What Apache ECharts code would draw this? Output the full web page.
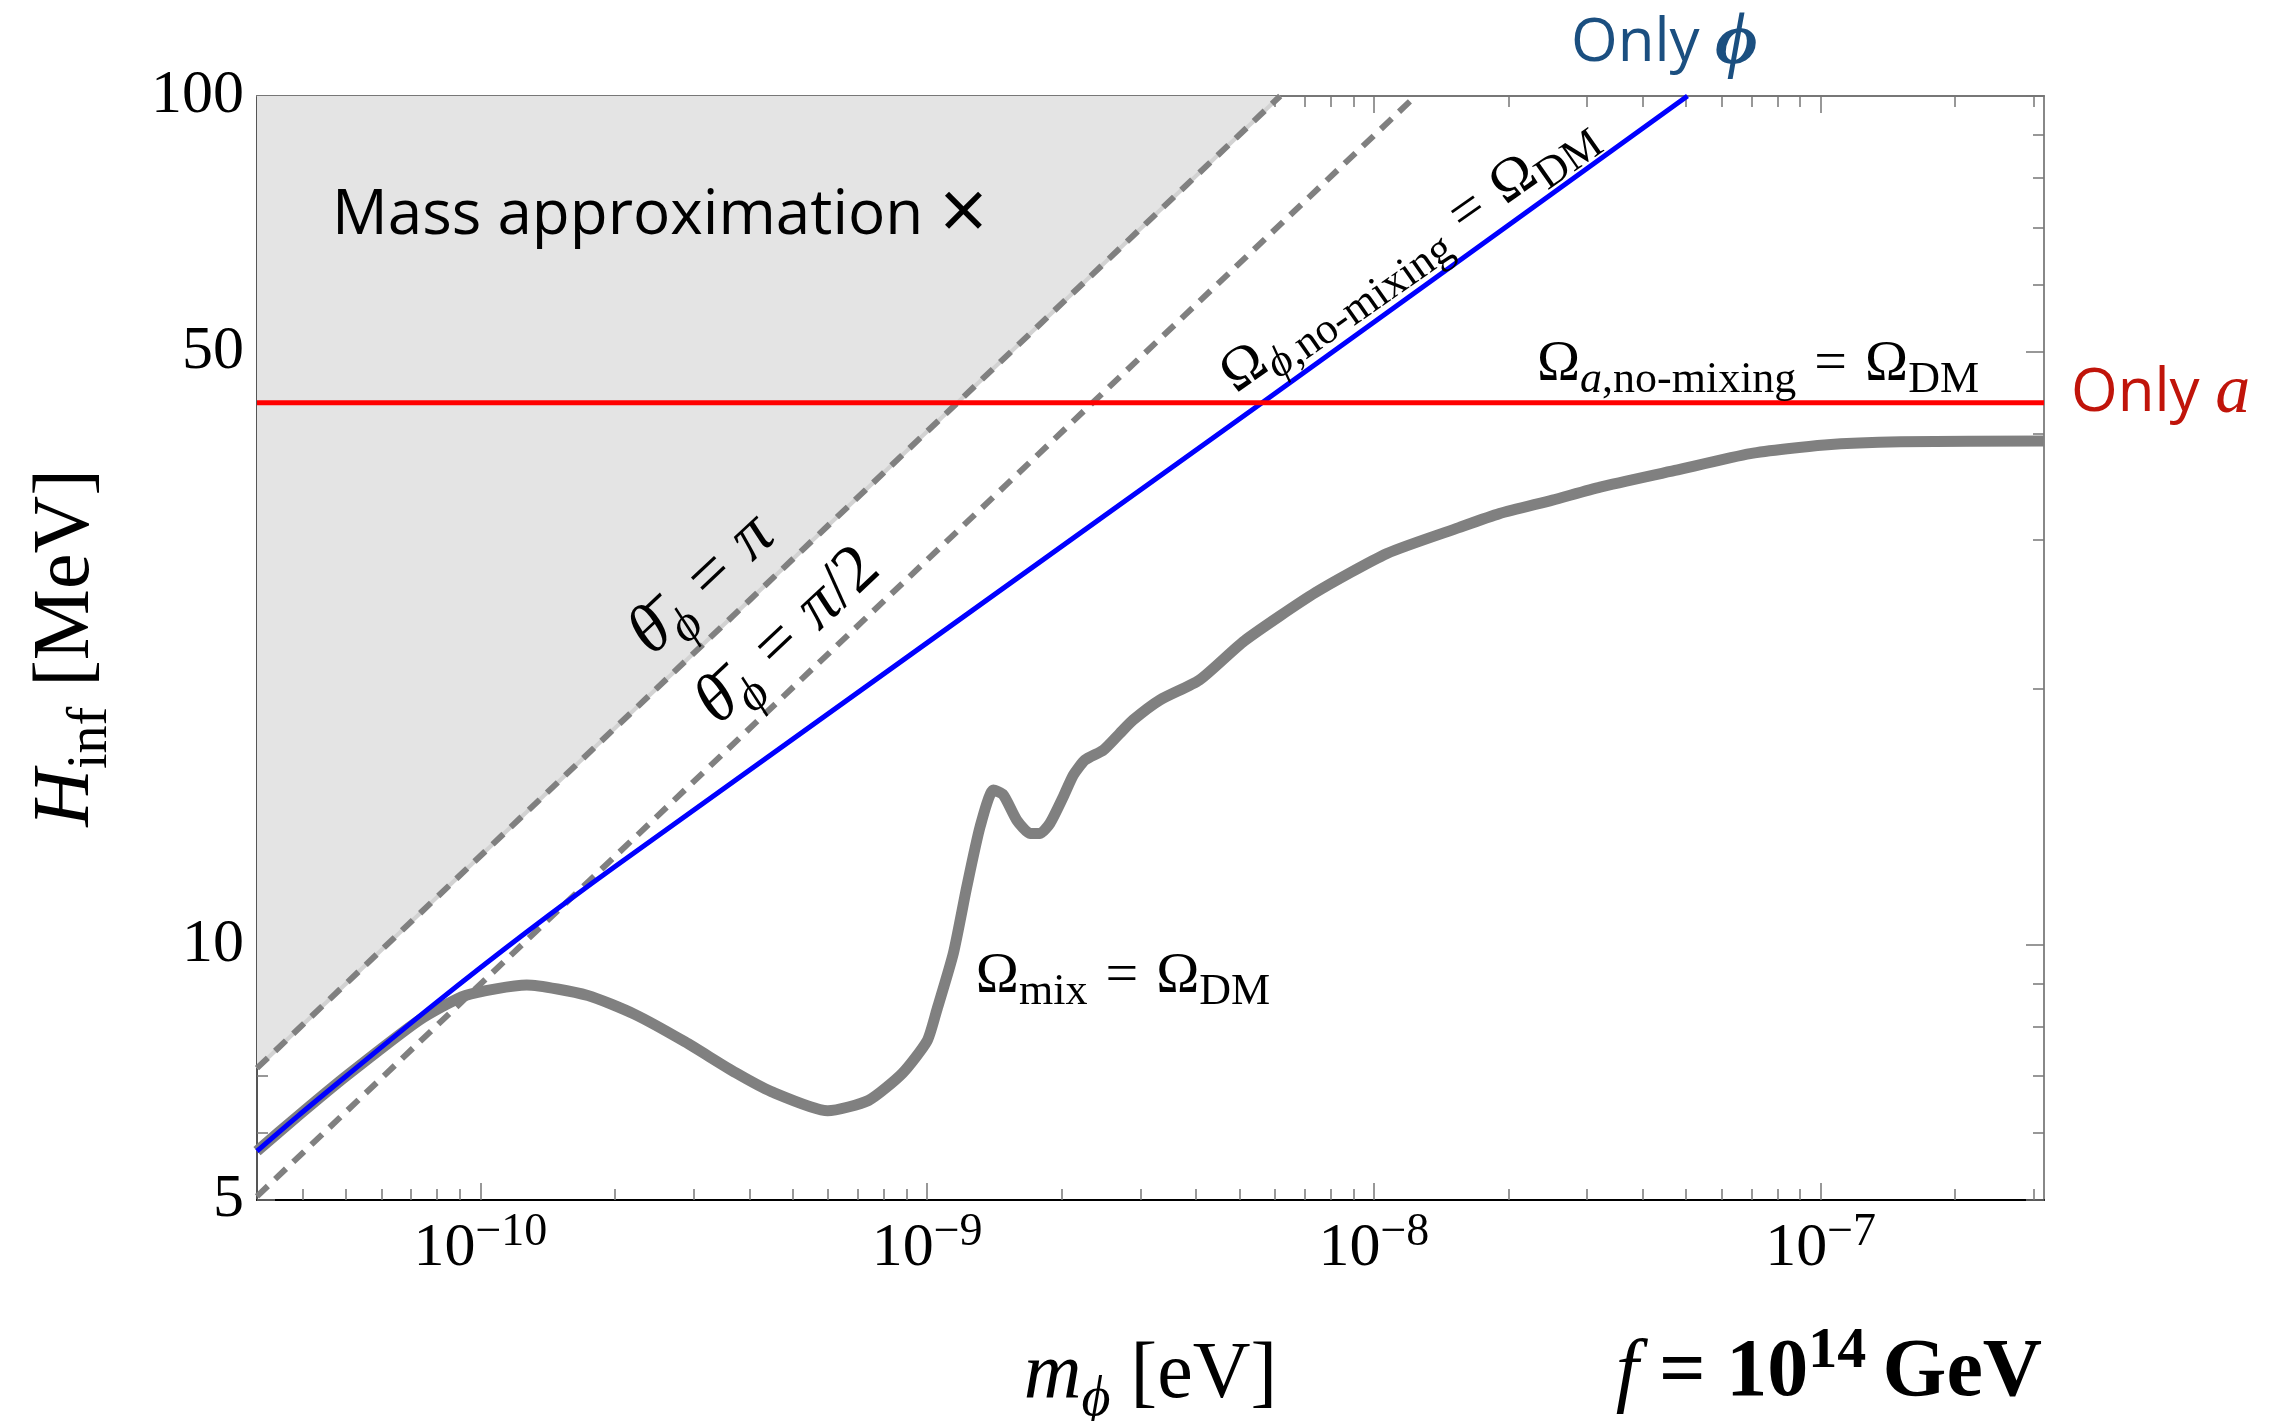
<!DOCTYPE html>
<html>
<head>
<meta charset="utf-8">
<title>H_inf vs m_phi</title>
<script src="https://cdn.jsdelivr.net/npm/echarts@6.0.0/dist/echarts.min.js"></script>
<style>
  html, body { margin: 0; padding: 0; background: #fff; }
  #chart { width: 2285px; height: 1421px; }
</style>
</head>
<body>
<div id="chart"></div>
<script>
// axis ranges (m_phi in eV, H_inf in MeV)
const massMin = 3.1623e-11;
const massMax = 3.1623e-7;
const hMin = 5;
const hMax = 100;

// tick positions
const massMajor = [1e-10, 1e-9, 1e-8, 1e-7];
const massMinor = [
  4e-11, 5e-11, 6e-11, 7e-11, 8e-11, 9e-11,
  2e-10, 3e-10, 4e-10, 5e-10, 6e-10, 7e-10, 8e-10, 9e-10,
  2e-9, 3e-9, 4e-9, 5e-9, 6e-9, 7e-9, 8e-9, 9e-9,
  2e-8, 3e-8, 4e-8, 5e-8, 6e-8, 7e-8, 8e-8, 9e-8,
  2e-7, 3e-7
];
const hMajor = [5, 10, 50, 100];
const hMinor = [6, 7, 8, 9, 20, 30, 40, 60, 70, 80, 90];

// Omega_mix = Omega_DM (thick gray)
const mixMass = [
  3.162e-11, 3.89e-11, 5.01e-11, 7.31e-11, 9.26e-11, 1.27e-10, 1.74e-10,
  2.21e-10, 2.87e-10, 3.73e-10, 4.48e-10, 5.99e-10, 7.39e-10, 8.80e-10,
  1.0e-9, 1.051e-9, 1.145e-9, 1.227e-9, 1.314e-9, 1.407e-9, 1.481e-9,
  1.587e-9, 1.70e-9, 1.79e-9, 1.884e-9, 2.018e-9, 2.125e-9, 2.256e-9,
  2.48e-9, 2.70e-9, 2.89e-9, 3.32e-9, 4.07e-9, 5.13e-9, 7.41e-9,
  1.07e-8, 1.55e-8, 1.91e-8, 2.51e-8, 3.21e-8, 4.72e-8, 6.96e-8,
  1.02e-7, 1.51e-7, 3.162e-7
];
const mixH = [
  5.71, 6.27, 7.00, 8.15, 8.71, 8.96, 8.71,
  8.28, 7.68, 7.06, 6.71, 6.37, 6.55, 7.05,
  7.70, 8.37, 9.77, 11.70, 13.77, 15.21, 15.01,
  14.02, 13.52, 13.52, 13.90, 14.94, 15.84, 16.50,
  16.95, 17.74, 18.39, 19.42, 20.5, 22.8, 26.0,
  28.9, 31.0, 32.2, 33.4, 34.6, 36.2, 37.9,
  38.8, 39.14, 39.2
];

// Omega_phi,no-mixing = Omega_DM (blue)
const phiMass = [3.162e-11, 3.89e-11, 5.01e-11, 7.94e-11, 1.259e-10, 1.995e-10, 5.62e-9, 5.035e-8];
const phiH = [5.71, 6.27, 7.00, 8.53, 10.31, 12.34, 43.5, 100];

// Omega_a,no-mixing = Omega_DM (red)
const aMass = [3.162e-11, 3.162e-7];
const aH = [43.5, 43.5];

// theta_phi = pi  (edge of the shaded region) and theta_phi = pi/2
const thetaPiMass = [3.162e-11, 6.17e-9];
const thetaPiH = [7.15, 100];
const thetaHalfMass = [3.162e-11, 1.24e-8];
const thetaHalfH = [5.05, 100];

const serif = "'Liberation Serif', 'DejaVu Serif', serif";
const sans = "'Open Sans', 'Noto Sans', sans-serif";

const pairs = (xs, ys) => xs.map((x, i) => [x, ys[i]]);
const tickStyle = { color: '#777', width: 1.5 };

function massAxis(position, ticks, len, extra) {
  return Object.assign({
    type: 'log', position: position, min: massMin, max: massMax,
    axisLine: { show: false },
    splitLine: { show: false },
    axisTick: { show: true, inside: true, length: len, customValues: ticks, lineStyle: tickStyle },
    axisLabel: { show: false }
  }, extra || {});
}
function hAxis(position, ticks, len, extra) {
  return Object.assign({
    type: 'log', position: position, min: hMin, max: hMax,
    axisLine: { show: false },
    splitLine: { show: false },
    axisTick: { show: true, inside: true, length: len, customValues: ticks, lineStyle: tickStyle },
    axisLabel: { show: false }
  }, extra || {});
}

// math-like rich styles for the curve labels (zrender style, so fill not color)
function mathRich(big, small, gap) {
  const pb = Math.round(big * 0.155);
  return {
    m: { fontFamily: serif, fontSize: big, fill: '#000', padding: [0, 0, pb, 0] },
    mi: { fontFamily: serif, fontSize: big, fontStyle: 'italic', fill: '#000', padding: [0, 0, pb, 0] },
    s: { fontFamily: serif, fontSize: small, fill: '#000', verticalAlign: 'bottom' },
    si: { fontFamily: serif, fontSize: small, fontStyle: 'italic', fill: '#000', verticalAlign: 'bottom' },
    eq: { fontFamily: serif, fontSize: big, fill: '#000', padding: [0, gap, pb, gap] }
  };
}
const omegaRich = mathRich(58, 44, 18);
const thetaRich = mathRich(68, 50, 20);

function mathText(x, y, text, rich, rot) {
  return {
    type: 'text', x: x, y: y, rotation: rot || 0, z: 100,
    style: { text: text, rich: rich, align: 'center', verticalAlign: 'middle' }
  };
}

const chart = echarts.init(document.getElementById('chart'));

const option = {
  animation: false,
  backgroundColor: '#fff',
  textStyle: { fontFamily: serif },
  grid: { left: 257, right: 241, top: 96, bottom: 221, outerBoundsMode: 'none' },
  xAxis: [
    massAxis('bottom', massMajor, 17, {
      axisLine: { show: true, lineStyle: { color: '#000', width: 2 } },
      axisLabel: {
        show: true,
        customValues: massMajor,
        margin: 10,
        formatter: function (v) {
          const e = Math.round(Math.log10(v));
          return '{b|10}{s|\u2212' + (-e) + '}';
        },
        rich: {
          b: { fontFamily: serif, fontSize: 62, color: '#000', padding: [8, 0, 0, 0] },
          s: { fontFamily: serif, fontSize: 46, color: '#000', verticalAlign: 'top' }
        }
      },
      name: '{i|m}{s|\u03d5}{r| [eV]}',
      nameLocation: 'middle',
      nameGap: 136,
      nameTextStyle: {
        rich: {
          i: { fontFamily: serif, fontStyle: 'italic', fontSize: 80, color: '#000', padding: [0, 0, 12, 0] },
          s: { fontFamily: serif, fontStyle: 'italic', fontSize: 56, color: '#000', verticalAlign: 'bottom' },
          r: { fontFamily: serif, fontSize: 80, color: '#000', padding: [0, 0, 12, 0] }
        }
      }
    }),
    massAxis('bottom', massMinor, 11),
    massAxis('top', massMajor, 17, { axisLine: { show: true, lineStyle: { color: '#777', width: 2 } } }),
    massAxis('top', massMinor, 11)
  ],
  yAxis: [
    hAxis('left', hMajor, 18, {
      axisLine: { show: true, lineStyle: { color: '#555', width: 2 } },
      axisLabel: {
        show: true,
        customValues: hMajor,
        margin: 13,
        fontFamily: serif,
        fontSize: 62,
        color: '#000',
        formatter: function (v) { return String(Math.round(v)); }
      },
      name: '{i|H}{s|inf}{r| [MeV]}',
      nameLocation: 'middle',
      nameRotate: 90,
      nameGap: 138,
      nameTextStyle: {
        rich: {
          i: { fontFamily: serif, fontStyle: 'italic', fontSize: 80, color: '#000', padding: [0, 0, 12, 0] },
          s: { fontFamily: serif, fontSize: 56, color: '#000', verticalAlign: 'bottom' },
          r: { fontFamily: serif, fontSize: 80, color: '#000', padding: [0, 0, 12, 0] }
        }
      }
    }),
    hAxis('left', hMinor, 11),
    hAxis('right', hMajor, 18, { axisLine: { show: true, lineStyle: { color: '#888', width: 2 } } }),
    hAxis('right', hMinor, 11)
  ],
  series: [
    {
      name: 'Mass approximation', type: 'line', data: pairs(thetaPiMass, thetaPiH),
      showSymbol: false, silent: true, z: 1,
      lineStyle: { color: '#d2d2d2', width: 4 },
      areaStyle: { color: '#e4e4e4', opacity: 1, origin: 'end' }
    },
    {
      name: 'theta = pi', type: 'line', data: pairs(thetaPiMass, thetaPiH),
      showSymbol: false, z: 3,
      lineStyle: { color: '#808080', width: 6, type: [15, 10] }
    },
    {
      name: 'theta = pi/2', type: 'line', data: pairs(thetaHalfMass, thetaHalfH),
      showSymbol: false, z: 3,
      lineStyle: { color: '#808080', width: 6, type: [15, 10] }
    },
    {
      name: 'Omega_mix', type: 'line', data: pairs(mixMass, mixH),
      showSymbol: false, smooth: 0.2, z: 4,
      lineStyle: { color: '#808080', width: 11 }
    },
    {
      name: 'Omega_phi', type: 'line', data: pairs(phiMass, phiH),
      showSymbol: false, smooth: 0.3, z: 5,
      lineStyle: { color: '#0000ff', width: 5 }
    },
    {
      name: 'Omega_a', type: 'line', data: pairs(aMass, aH),
      showSymbol: false, z: 6,
      lineStyle: { color: '#ff0000', width: 5 }
    }
  ],
  graphic: [
    {
      type: 'text', x: 332, y: 216, z: 100,
      style: {
        text: '{t|Mass approximation }{x|\u00d7}', align: 'left', verticalAlign: 'middle',
        rich: {
          t: { fontFamily: sans, fontSize: 62, fill: '#000' },
          x: { fontFamily: sans, fontSize: 84, fill: '#000' }
        }
      }
    },
    mathText(706, 589, '{mi|\u03b8\u0304}{si|\u03d5}{eq|=}{mi|\u03c0}', thetaRich, 43.2 * Math.PI / 180),
    mathText(792, 640, '{mi|\u03b8\u0304}{si|\u03d5}{eq|=}{mi|\u03c0}{m|/2}', thetaRich, 43.2 * Math.PI / 180),
    mathText(1411, 258, '{m|\u03a9}{si|\u03d5}{s|,no-mixing}{eq|=}{m|\u03a9}{s|DM}', omegaRich, 35 * Math.PI / 180),
    mathText(1758, 369, '{m|\u03a9}{si|a}{s|,no-mixing}{eq|=}{m|\u03a9}{s|DM}', omegaRich),
    mathText(1123, 981, '{m|\u03a9}{s|mix}{eq|=}{m|\u03a9}{s|DM}', omegaRich),
    {
      type: 'text', x: 1571, y: 44, z: 100,
      style: {
        text: '{t|Only }{p|\u03d5}', align: 'left', verticalAlign: 'middle',
        rich: {
          t: { fontFamily: sans, fontSize: 60, fill: '#1b4f80' },
          p: { fontFamily: serif, fontSize: 74, fontStyle: 'italic', fontWeight: 'bold', fill: '#1b4f80' }
        }
      }
    },
    {
      type: 'text', x: 2071, y: 394, z: 100,
      style: {
        text: '{t|Only }{p|a}', align: 'left', verticalAlign: 'middle',
        rich: {
          t: { fontFamily: sans, fontSize: 60, fill: '#c0140a' },
          p: { fontFamily: serif, fontSize: 70, fontStyle: 'italic', fill: '#c0140a' }
        }
      }
    },
    {
      type: 'text', x: 2042, y: 1369, z: 100,
      style: {
        text: '{f|f}{r| = 10}{u|14}{r|\u2009GeV}', align: 'right', verticalAlign: 'middle',
        rich: {
          f: { fontFamily: serif, fontSize: 82, fontStyle: 'italic', fill: '#000', padding: [10, 0, 0, 0] },
          r: { fontFamily: serif, fontSize: 82, fontWeight: 'bold', fill: '#000', padding: [10, 0, 0, 0] },
          u: { fontFamily: serif, fontSize: 58, fontWeight: 'bold', fill: '#000', verticalAlign: 'top' }
        }
      }
    }
  ]
};

chart.setOption(option);
</script>
</body>
</html>
